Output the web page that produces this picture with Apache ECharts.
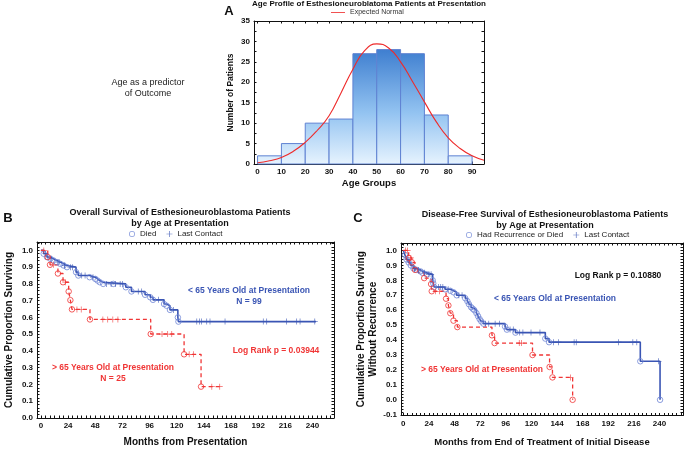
<!DOCTYPE html>
<html><head><meta charset="utf-8">
<script src="https://cdn.jsdelivr.net/npm/echarts@6/dist/echarts.min.js"></script>
<style>html,body{margin:0;padding:0;background:#fff}#c{width:685px;height:449px}</style>
</head><body><div id="c"></div>
<script>
// ---------- Panel A data ----------
const ageBinStart = [0, 10, 20, 30, 40, 50, 60, 70, 80];
const ageBinEnd   = [10, 20, 30, 40, 50, 60, 70, 80, 90];
const ageBinCount = [2, 5, 10, 11, 27, 28, 27, 12, 2];
const normalAge = [0, 5, 10, 15, 20, 25, 30, 35, 40, 45, 50, 55, 60, 65, 70, 75, 80, 85, 90, 95];
const normalVal = [0.3, 0.8, 1.6, 3.1, 5.3, 8.2, 11.8, 17.4, 23.2, 27.8, 29.4, 28.4, 25.0, 20.2, 15.2, 10.3, 6.4, 3.8, 2.0, 0.9];
const ageTickLabels = [0, 10, 20, 30, 40, 50, 60, 70, 80, 90];
const countTickLabels = [0, 5, 10, 15, 20, 25, 30, 35];

// ---------- Panel B data (overall survival) ----------
const monthTickLabels = [0, 24, 48, 72, 96, 120, 144, 168, 192, 216, 240];
const survTickLabelsB = [0, 0.1, 0.2, 0.3, 0.4, 0.5, 0.6, 0.7, 0.8, 0.9, 1.0];
const bYoungT = [0, 2.4, 5.3, 8.3, 11, 14, 17, 20, 23, 31, 33, 43, 48, 50, 52, 55, 75, 80, 92, 96.6, 99, 108.8, 111, 114, 121, 121.5, 243];
const bYoungS = [1.0, 0.98, 0.96, 0.95, 0.94, 0.93, 0.92, 0.91, 0.90, 0.87, 0.85, 0.84, 0.83, 0.82, 0.81, 0.80, 0.78, 0.755, 0.735, 0.72, 0.705, 0.68, 0.67, 0.645, 0.60, 0.575, 0.575];
const bYoungDiedT = [2.4, 5.3, 8.3, 11, 14, 17, 20, 23, 31, 33, 43, 48, 50, 52, 55, 64, 75, 80, 92, 96.6, 99, 108.8, 111, 114, 121, 121.5];
const bYoungDiedS = [0.98, 0.96, 0.95, 0.94, 0.93, 0.92, 0.91, 0.90, 0.87, 0.85, 0.84, 0.83, 0.82, 0.81, 0.80, 0.80, 0.78, 0.755, 0.735, 0.72, 0.705, 0.68, 0.67, 0.645, 0.60, 0.575];
const bYoungCensT = [4, 9, 16, 21, 26, 28, 36, 39, 46, 58, 62, 66, 70, 72, 86, 89, 104, 117, 137.7, 140, 142, 146.5, 149.4, 162.7, 196.5, 199.5, 217, 226, 229, 242];
const bYoungCensS = [0.98, 0.95, 0.93, 0.91, 0.90, 0.90, 0.85, 0.85, 0.84, 0.80, 0.80, 0.80, 0.80, 0.80, 0.755, 0.755, 0.705, 0.645, 0.575, 0.575, 0.575, 0.575, 0.575, 0.575, 0.575, 0.575, 0.575, 0.575, 0.575, 0.575];
const bOldT = [0, 6, 8, 15, 19.5, 24.5, 26, 27.4, 43.3, 97, 126.5, 141.5, 159];
const bOldS = [1.0, 0.96, 0.914, 0.862, 0.81, 0.755, 0.703, 0.648, 0.588, 0.501, 0.38, 0.187, 0.187];
const bOldDiedT = [6, 8, 15, 19.5, 24.5, 26, 27.4, 43.3, 97, 126.5, 141.5];
const bOldDiedS = [0.96, 0.914, 0.862, 0.81, 0.755, 0.703, 0.648, 0.588, 0.501, 0.38, 0.187];
const bOldCensT = [2.5, 11, 21.5, 31.8, 35.6, 54.7, 59, 63.5, 68, 107, 112, 115.6, 131, 134.7, 151, 158];
const bOldCensS = [1.0, 0.914, 0.81, 0.648, 0.648, 0.588, 0.588, 0.588, 0.588, 0.501, 0.501, 0.501, 0.38, 0.38, 0.187, 0.187];

// ---------- Panel C data (disease-free survival) ----------
const survTickLabelsC = [-0.1, 0, 0.1, 0.2, 0.3, 0.4, 0.5, 0.6, 0.7, 0.8, 0.9, 1.0];
const cYoungT = [0, 1.5, 3, 5, 7, 9.5, 12.5, 16, 18, 22, 27.5, 28, 28.8, 39, 44, 47, 50, 58, 60, 61.5, 63.5, 65, 66.5, 68.5, 70, 71.5, 73, 75, 95.3, 97, 105, 133, 136.5, 222, 240.5];
const cYoungS = [1.0, 0.97, 0.94, 0.92, 0.90, 0.88, 0.87, 0.86, 0.85, 0.84, 0.80, 0.78, 0.755, 0.74, 0.73, 0.72, 0.70, 0.68, 0.66, 0.64, 0.62, 0.61, 0.60, 0.58, 0.56, 0.54, 0.525, 0.51, 0.49, 0.47, 0.45, 0.41, 0.386, 0.258, 0.0];
const cYoungDiedT = [1.5, 3, 5, 7, 9.5, 12.5, 16, 18, 22, 27.5, 28, 28.8, 39, 44, 47, 50, 58, 60, 61.5, 63.5, 65, 66.5, 68.5, 70, 71.5, 73, 75, 95.3, 97, 105, 133, 136.5, 222, 240.5];
const cYoungDiedS = [0.97, 0.94, 0.92, 0.90, 0.88, 0.87, 0.86, 0.85, 0.84, 0.80, 0.78, 0.755, 0.74, 0.73, 0.72, 0.70, 0.68, 0.66, 0.64, 0.62, 0.61, 0.60, 0.58, 0.56, 0.54, 0.525, 0.51, 0.49, 0.47, 0.45, 0.41, 0.386, 0.258, 0.0];
const cYoungCensT = [4, 10.5, 14, 20, 24, 26, 33, 35, 37, 42, 52, 55, 77, 80, 86, 90, 100, 103, 109, 112, 119.6, 128, 140.6, 145.3, 160, 162, 201.6, 215, 218.7, 239];
const cYoungCensS = [0.94, 0.88, 0.87, 0.85, 0.84, 0.84, 0.755, 0.755, 0.755, 0.74, 0.70, 0.70, 0.51, 0.51, 0.51, 0.51, 0.47, 0.47, 0.45, 0.45, 0.45, 0.45, 0.386, 0.386, 0.386, 0.386, 0.386, 0.386, 0.386, 0.258];
const cOldT = [0, 5, 8, 11, 14, 19.5, 26, 26.6, 40, 42.2, 44, 47, 50.6, 83, 85.5, 121, 137, 139.7, 158.6];
const cOldS = [1.0, 0.95, 0.92, 0.87, 0.85, 0.815, 0.775, 0.727, 0.677, 0.632, 0.58, 0.53, 0.487, 0.432, 0.38, 0.30, 0.22, 0.15, 0.0];
const cOldDiedT = [5, 8, 11, 19.5, 26, 26.6, 40, 42.2, 44, 47, 50.6, 83, 85.5, 121, 137, 139.7, 158.6];
const cOldDiedS = [0.95, 0.92, 0.87, 0.815, 0.775, 0.727, 0.677, 0.632, 0.58, 0.53, 0.487, 0.432, 0.38, 0.30, 0.22, 0.15, 0.0];
const cOldCensT = [2, 4, 7, 30, 34, 108.6, 110.8, 156.5];
const cOldCensS = [1.0, 1.0, 0.95, 0.727, 0.727, 0.38, 0.38, 0.15];

// ---------- styling ----------
const FONT = 'Liberation Sans, Arial, sans-serif';
const BLUE = '#3a55b4';
const BLUE_LIGHT = '#6f86d6';
const RED = '#f03535';
const NORMAL_RED = '#ee2a2a';
const INK = '#111';
const PLUS = 'path://M4.4,0h1.2v4.4h4.4v1.2h-4.4v4.4h-1.2v-4.4h-4.4v-1.2h4.4z';
const RING = 'path://M5,0A5,5 0 1 1 4.99,0ZM5,1.2A3.8,3.8 0 1 0 5.01,1.2Z';

const zip = (a, b) => a.map((v, i) => [v, b[i]]);
function range(a, b, s) { const r = []; for (let v = a; v <= b + 1e-9; v += s) r.push(+v.toFixed(4)); return r; }

function axisPair(dim, gi, min, max, labels, ticks, fmt, name, nameGap, fontSize, nameSize) {
  const base = {
    type: 'value', gridIndex: gi, min: min, max: max,
    splitLine: { show: false },
    axisLine: { show: true, onZero: false, lineStyle: { color: INK, width: 1 } },
    axisTick: { show: true, inside: true, length: 2.5, customValues: ticks, lineStyle: { color: INK, width: 1 } }
  };
  const main = Object.assign({}, base, {
    position: dim === 'x' ? 'bottom' : 'left',
    axisLabel: { customValues: labels, formatter: fmt, fontFamily: FONT, fontWeight: 'bold', fontSize: fontSize, color: INK, margin: 4 },
    name: name, nameLocation: 'middle', nameGap: nameGap,
    nameTextStyle: { fontFamily: FONT, fontWeight: 'bold', fontSize: nameSize, color: INK, lineHeight: nameSize + 2 }
  });
  const other = Object.assign({}, base, {
    position: dim === 'x' ? 'top' : 'right',
    axisLabel: { show: false }
  });
  return [main, other];
}

const chart = echarts.init(document.getElementById('c'), null, { renderer: 'canvas' });

const xA = axisPair('x', 0, -1.5, 95, ageTickLabels, range(0, 95, 5), v => String(v), 'Age Groups', 14, 8, 9.5);
const yA = axisPair('y', 0, 0, 35, countTickLabels, range(0, 35, 2.5), v => String(v), 'Number of Patients', 18, 8, 8.5);
const xB = axisPair('x', 1, -3.5, 259, monthTickLabels, range(0, 256, 4), v => String(v), 'Months from Presentation', 18, 8, 10);
const yB = axisPair('y', 1, 0, 1.05, survTickLabelsB, range(0, 1.04, 0.02), v => v.toFixed(1), 'Cumulative Proportion Surviving', 22, 8, 10);
const xC = axisPair('x', 2, -2.2, 262, monthTickLabels, range(0, 260, 4), v => String(v), 'Months from End of Treatment of Initial Disease', 21, 8, 9.5);
const yC = axisPair('y', 2, -0.105, 1.05, survTickLabelsC, range(-0.1, 1.04, 0.02), v => v.toFixed(1), 'Cumulative Proportion Surviving\nWithout Recurrence', 20, 8, 10);

const histGradient = new echarts.graphic.LinearGradient(0, 50, 0, 164, [
  { offset: 0, color: '#3f7fd0' }, { offset: 0.55, color: '#93c3f1' }, { offset: 1, color: '#e6f3fe' }
], true);

function kmLine(name, t, s, xi, yi, color, dashed) {
  return { name: name, type: 'line', xAxisIndex: xi, yAxisIndex: yi, step: 'end', symbol: 'none',
    data: zip(t, s), lineStyle: { color: color, width: dashed ? 1.3 : 1.6, type: dashed ? [4, 3] : 'solid' }, z: 3, silent: true };
}
function circles(name, t, s, xi, yi, color) {
  return { name: name, type: 'scatter', xAxisIndex: xi, yAxisIndex: yi, symbol: 'circle', symbolSize: 5.5,
    data: zip(t, s), itemStyle: { color: 'rgba(255,255,255,0)', borderColor: color, borderWidth: 1 }, z: 4 };
}
function pluses(name, t, s, xi, yi, color) {
  return { name: name, type: 'scatter', xAxisIndex: xi, yAxisIndex: yi, symbol: PLUS, symbolSize: 6,
    data: zip(t, s), itemStyle: { color: color }, z: 4 };
}

function txt(text, x, y, color, size, weight, lh) {
  return { type: 'text', x: x, y: y, z: 10, style: { text: text, fill: color, fontFamily: FONT, fontSize: size,
    fontWeight: weight || 'bold', align: 'center', verticalAlign: 'middle', lineHeight: lh || size + 2 } };
}

const ringItem = { color: BLUE_LIGHT, borderWidth: 0 };
const plusItem = { color: BLUE, borderWidth: 0 };

const option = {
  animation: false,
  backgroundColor: '#fff',
  title: [
    { text: 'Age Profile of Esthesioneuroblatoma Patients at Presentation', left: 369, top: 0, textAlign: 'center', padding: 0,
      textStyle: { fontFamily: FONT, fontWeight: 'bold', fontSize: 8, color: INK } },
    { text: 'Overall Survival of Esthesioneuroblastoma Patients\nby Age at Presentation', left: 180, top: 207, textAlign: 'center', padding: 0,
      textStyle: { fontFamily: FONT, fontWeight: 'bold', fontSize: 9, lineHeight: 11, color: INK } },
    { text: 'Disease-Free Survival of Esthesioneuroblastoma Patients\nby Age at Presentation', left: 545, top: 209, textAlign: 'center', padding: 0,
      textStyle: { fontFamily: FONT, fontWeight: 'bold', fontSize: 9, lineHeight: 11, color: INK } }
  ],
  legend: [
    { data: [{ name: 'Expected Normal', icon: 'path://M0,4h24v1.4h-24z', itemStyle: { color: NORMAL_RED } }], left: 331, top: 9, itemWidth: 14, itemHeight: 3, padding: 0,
      textStyle: { fontFamily: FONT, fontSize: 7, color: '#333' }, selectedMode: false },
    { data: [{ name: 'Died', icon: RING, itemStyle: ringItem }, { name: 'Last Contact', icon: PLUS, itemStyle: plusItem }], left: 129, top: 230, itemWidth: 6, itemHeight: 6, itemGap: 10, padding: 0,
      textStyle: { fontFamily: FONT, fontSize: 8, color: '#222' }, selectedMode: false },
    { data: [{ name: 'Had Recurrence or Died', icon: RING, itemStyle: ringItem }, { name: 'Last Contact', icon: PLUS, itemStyle: plusItem }], left: 466, top: 231, itemWidth: 6, itemHeight: 6, itemGap: 10, padding: 0,
      textStyle: { fontFamily: FONT, fontSize: 8, color: '#222' }, selectedMode: false }
  ],
  grid: [
    { left: 254, top: 21, width: 230, height: 143 },
    { left: 37, top: 242, width: 297, height: 177 },
    { left: 401, top: 243, width: 282, height: 175 }
  ],
  xAxis: [].concat(xA, xB, xC),
  yAxis: [].concat(yA, yB, yC),
  graphic: [
    txt('A', 229, 11, INK, 13, 'bold'),
    txt('B', 8, 218, INK, 13, 'bold'),
    txt('C', 358, 218, INK, 13, 'bold'),
    txt('Age as a predictor\nof Outcome', 148, 88, '#222', 9, 'normal', 11),
    txt('< 65 Years Old at Presentation\nN = 99', 249, 296, BLUE, 8.5, 'bold', 10.5),
    txt('Log Rank p = 0.03944', 276, 351, RED, 8.5, 'bold'),
    txt('> 65 Years Old at Presentation\nN = 25', 113, 373, RED, 8.5, 'bold', 10.5),
    txt('Log Rank p = 0.10880', 618, 276, INK, 8.5, 'bold'),
    txt('< 65 Years Old at Presentation', 555, 299, BLUE, 8.5, 'bold'),
    txt('> 65 Years Old at Presentation', 482, 370, RED, 8.5, 'bold')
  ],
  series: [
    { name: 'Age Groups', type: 'custom', xAxisIndex: 0, yAxisIndex: 0,
      data: ageBinStart.map((s, i) => [s, ageBinEnd[i], ageBinCount[i]]),
      encode: { x: [0, 1], y: 2 },
      renderItem: function (params, api) {
        const p0 = api.coord([api.value(0), api.value(2)]);
        const p1 = api.coord([api.value(1), 0]);
        return { type: 'rect', shape: { x: p0[0], y: p0[1], width: p1[0] - p0[0], height: p1[1] - p0[1] },
          style: { fill: histGradient, stroke: '#5f82d2', lineWidth: 1 } };
      }, z: 2 },
    { name: 'Expected Normal', type: 'line', xAxisIndex: 0, yAxisIndex: 0, smooth: 0.5, symbol: 'none',
      data: zip(normalAge, normalVal), lineStyle: { color: NORMAL_RED, width: 1.1 }, itemStyle: { color: NORMAL_RED }, color: NORMAL_RED, z: 5 },

    kmLine('< 65 overall', bYoungT, bYoungS, 2, 2, BLUE, false),
    kmLine('> 65 overall', bOldT, bOldS, 2, 2, RED, true),
    circles('Died', bYoungDiedT, bYoungDiedS, 2, 2, BLUE_LIGHT),
    pluses('Last Contact', bYoungCensT, bYoungCensS, 2, 2, BLUE),
    circles('Died (> 65)', bOldDiedT, bOldDiedS, 2, 2, RED),
    pluses('Last Contact (> 65)', bOldCensT, bOldCensS, 2, 2, RED),

    kmLine('< 65 disease-free', cYoungT, cYoungS, 4, 4, BLUE, false),
    kmLine('> 65 disease-free', cOldT, cOldS, 4, 4, RED, true),
    circles('Had Recurrence or Died', cYoungDiedT, cYoungDiedS, 4, 4, BLUE_LIGHT),
    pluses('Last Contact ', cYoungCensT, cYoungCensS, 4, 4, BLUE),
    circles('Had Recurrence or Died (> 65)', cOldDiedT, cOldDiedS, 4, 4, RED),
    pluses('Last Contact (> 65) ', cOldCensT, cOldCensS, 4, 4, RED)
  ]
};
chart.setOption(option);
</script>
</body></html>
